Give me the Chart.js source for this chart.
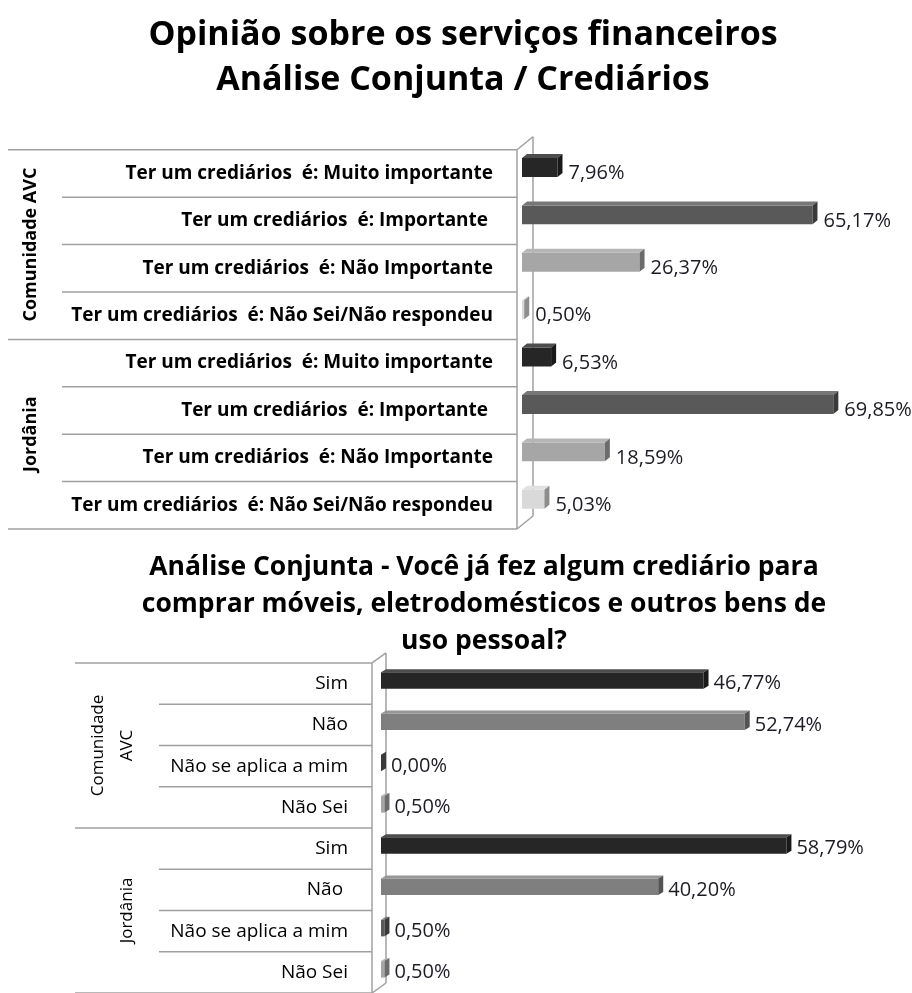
<!DOCTYPE html>
<html>
<head>
<meta charset="utf-8">
<script src="https://cdn.jsdelivr.net/npm/chart.js@4.4.0/dist/chart.umd.min.js"></script>
<style>
  body { margin: 0; background: #fff; }
  canvas { position: absolute; left: 0; }
  #opinion-chart { top: 0; }
  #usage-chart { top: 540px; }
</style>
</head>
<body>
<canvas id="opinion-chart" width="912" height="540"></canvas>
<canvas id="usage-chart" width="912" height="453"></canvas>
<script>
// Survey answers, in percent
const opinionCategories = [
  'Ter um crediários  é: Muito importante',
  'Ter um crediários  é: Importante ',
  'Ter um crediários  é: Não Importante',
  'Ter um crediários  é: Não Sei/Não respondeu'
];
const opinionAvc = [7.96, 65.17, 26.37, 0.50];
const opinionJordania = [6.53, 69.85, 18.59, 5.03];

const usageCategoriesAvc = ['Sim', 'Não', 'Não se aplica a mim', 'Não Sei'];
const usageCategoriesJordania = ['Sim', 'Não ', 'Não se aplica a mim', 'Não Sei'];
const usageAvc = [46.77, 52.74, 0.00, 0.50];
const usageJordania = [58.79, 40.20, 0.50, 0.50];

const opinionGroups = [['Comunidade AVC'], ['Jordânia']];
const usageGroups = [['Comunidade', 'AVC'], ['Jordânia']];

Chart.defaults.font.family = '"Open Sans"';

// Lighten (f > 0) or darken (f < 0) a hex colour
function shade(hex, f) {
  const n = parseInt(hex.slice(1), 16);
  const mix = c => Math.round(f >= 0 ? c + (255 - c) * f : c * (1 + f));
  return `rgb(${mix(n >> 16)}, ${mix((n >> 8) & 255)}, ${mix(n & 255)})`;
}

function pct(v) {
  return v.toFixed(2).replace('.', ',') + '%';
}

// keep the category axis from reserving room for half a label above/below
function fixAxis(width) {
  return s => {
    s.width = width;
    s.paddingTop = 0;
    s.paddingBottom = 0;
  };
}

// Table lines, back wall and rotated group names on the left
const tableGrid = {
  id: 'tableGrid',
  beforeDatasetsDraw(chart, args, o) {
    const { ctx, chartArea } = chart;
    const n = chart.data.labels.length;
    const rowH = (chartArea.bottom - chartArea.top) / n;
    const edge = i => chartArea.top + i * rowH + o.shift;
    const front = chartArea.left - o.wallGap;
    const line = (x0, y0, x1, y1) => {
      ctx.beginPath(); ctx.moveTo(x0, y0); ctx.lineTo(x1, y1); ctx.stroke();
    };
    ctx.save();
    ctx.strokeStyle = '#a0a0a0';
    ctx.lineWidth = 1.5;
    for (let i = 0; i <= n; i++) {
      const x0 = i % o.groupSize === 0 ? o.groupLeft : o.rowLeft;
      line(x0, edge(i), front, edge(i));
    }
    line(front, edge(0), front, edge(n));
    line(front + o.wallX, edge(0) - o.wallY, front + o.wallX, edge(n) - o.wallY);
    line(front, edge(0), front + o.wallX, edge(0) - o.wallY);
    line(front, edge(n), front + o.wallX, edge(n) - o.wallY);

    ctx.fillStyle = '#000';
    ctx.font = o.groupFont;
    ctx.textAlign = 'center';
    ctx.textBaseline = 'middle';
    o.groups.forEach((lines, g) => {
      const cy = (edge(g * o.groupSize) + edge((g + 1) * o.groupSize)) / 2;
      ctx.save();
      ctx.translate(o.groupX, cy);
      ctx.rotate(-Math.PI / 2);
      lines.forEach((t, k) => {
        ctx.fillText(t, 0, (k - lines.length + 1) * o.groupLine);
      });
      ctx.restore();
    });
    ctx.restore();
  }
};

// Top and side faces of the bars plus value labels
const bar3d = {
  id: 'bar3d',
  afterDatasetsDraw(chart, args, o) {
    const { ctx } = chart;
    const ds = chart.data.datasets[0];
    ctx.save();
    chart.getDatasetMeta(0).data.forEach((bar, i) => {
      const { x, y, base, height } = bar.getProps(['x', 'y', 'base', 'height'], true);
      const top = y - height / 2;
      const bottom = y + height / 2;
      const col = ds.backgroundColor[i];
      ctx.fillStyle = shade(col, 0.18);
      ctx.beginPath();
      ctx.moveTo(base, top);
      ctx.lineTo(base + o.dx, top - o.dy);
      ctx.lineTo(x + o.dx, top - o.dy);
      ctx.lineTo(x, top);
      ctx.closePath();
      ctx.fill();
      ctx.fillStyle = shade(col, -0.35);
      ctx.beginPath();
      ctx.moveTo(x, top);
      ctx.lineTo(x + o.dx, top - o.dy);
      ctx.lineTo(x + o.dx, bottom - o.dy);
      ctx.lineTo(x, bottom);
      ctx.closePath();
      ctx.fill();
    });
    ctx.fillStyle = '#1c1c24';
    ctx.font = o.labelFont;
    ctx.textAlign = 'left';
    ctx.textBaseline = 'middle';
    chart.getDatasetMeta(0).data.forEach((bar, i) => {
      ctx.fillText(pct(ds.data[i]), bar.x + o.dx + o.gap, bar.y + o.shift);
    });
    ctx.restore();
  }
};

const opinionColors = ['#262626', '#595959', '#a6a6a6', '#d9d9d9'];
const usageColors = ['#262626', '#7f7f7f', '#595959', '#a6a6a6'];

new Chart(document.getElementById('opinion-chart'), {
  type: 'bar',
  data: {
    labels: opinionCategories.concat(opinionCategories),
    datasets: [{
      data: opinionAvc.concat(opinionJordania),
      backgroundColor: opinionColors.concat(opinionColors),
      categoryPercentage: 1,
      barPercentage: 0.4
    }]
  },
  options: {
    indexAxis: 'y',
    responsive: false,
    animation: false,
    layout: { padding: { left: 14, bottom: 17 } },
    scales: {
      x: { display: false, min: 0, max: 87.5 },
      y: {
        grid: { display: false, drawTicks: false },
        border: { display: false },
        ticks: {
          autoSkip: false, padding: 29, labelOffset: 6, color: '#000',
          font: { size: 19, weight: 'bold' }
        },
        afterFit: fixAxis(508)
      }
    },
    plugins: {
      legend: { display: false },
      tooltip: { enabled: false },
      title: {
        display: true,
        text: ['Opinião sobre os serviços financeiros', 'Análise Conjunta / Crediários'],
        color: '#000',
        font: { size: 34, weight: 'bold', lineHeight: 1.32 },
        padding: { top: 12.5, bottom: 41.5 }
      },
      tableGrid: {
        shift: 6, wallGap: 5, wallX: 16, wallY: 13, groupSize: 4,
        groupLeft: 8, rowLeft: 62, groupX: 31, groupLine: 29,
        groupFont: 'bold 18px "Open Sans"', groups: opinionGroups
      },
      bar3d: { dx: 5, dy: 4, gap: 6, shift: 6, labelFont: '20px "Open Sans"' }
    }
  },
  plugins: [tableGrid, bar3d]
});

new Chart(document.getElementById('usage-chart'), {
  type: 'bar',
  data: {
    labels: usageCategoriesAvc.concat(usageCategoriesJordania),
    datasets: [{
      data: usageAvc.concat(usageJordania),
      backgroundColor: usageColors.concat(usageColors),
      categoryPercentage: 1,
      barPercentage: 0.4
    }]
  },
  options: {
    indexAxis: 'y',
    responsive: false,
    animation: false,
    layout: { padding: { left: 56, bottom: 3 } },
    scales: {
      x: { display: false, min: 0, max: 77 },
      y: {
        grid: { display: false, drawTicks: false },
        border: { display: false },
        ticks: {
          autoSkip: false, padding: 33, labelOffset: 3, color: '#000',
          font: { size: 19 }
        },
        afterFit: fixAxis(325)
      }
    },
    plugins: {
      legend: { display: false },
      tooltip: { enabled: false },
      title: {
        display: true,
        text: [
          'Análise Conjunta - Você já fez algum crediário para',
          'comprar móveis, eletrodomésticos e outros bens de',
          'uso pessoal?'
        ],
        color: '#000',
        font: { size: 26.5, weight: 'bold', lineHeight: 1.396 },
        padding: { top: 9, bottom: 0 }
      },
      tableGrid: {
        shift: 3, wallGap: 9, wallX: 14, wallY: 10, groupSize: 4,
        groupLeft: 75, rowLeft: 159, groupX: 127, groupLine: 29,
        groupFont: '17px "Open Sans"', groups: usageGroups
      },
      bar3d: { dx: 5, dy: 3, gap: 5, shift: 3, labelFont: '20px "Open Sans"' }
    }
  },
  plugins: [tableGrid, bar3d]
});
</script>
</body>
</html>
